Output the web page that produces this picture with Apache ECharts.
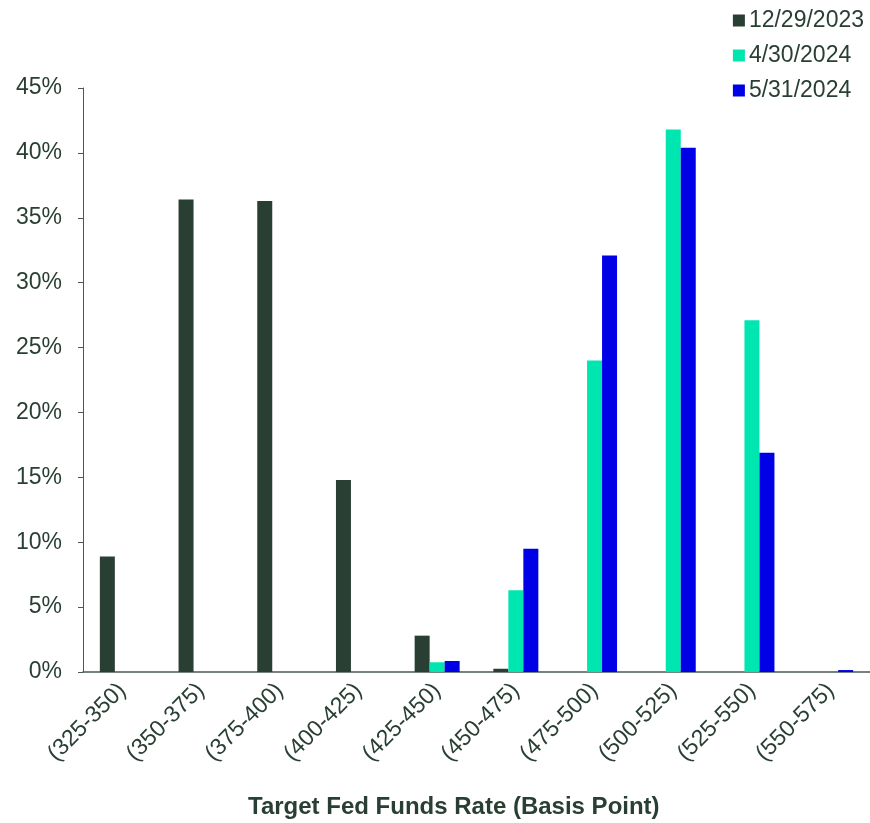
<!DOCTYPE html>
<html>
<head>
<meta charset="utf-8">
<script src="https://cdn.jsdelivr.net/npm/echarts@6/dist/echarts.min.js"></script>
<style>
  html, body { margin: 0; padding: 0; background: #ffffff; }
  #chart { width: 870px; height: 823px; }
</style>
</head>
<body>
<div id="chart"></div>
<script>
// Fed funds rate probability buckets (basis points)
const categories = ['(325-350)', '(350-375)', '(375-400)', '(400-425)', '(425-450)',
                    '(450-475)', '(475-500)', '(500-525)', '(525-550)', '(550-575)'];

// Probability (%) for each snapshot date
const dec2023 = [8.9, 36.4, 36.3, 14.8, 2.8, 0.25, 0, 0, 0, 0];
const apr2024 = [0, 0, 0, 0, 0.75, 6.3, 24.0, 41.8, 27.1, 0];
const may2024 = [0, 0, 0, 0, 0.85, 9.5, 32.1, 40.4, 16.9, 0.15];

const seriesNames = ['12/29/2023', '4/30/2024', '5/31/2024'];
const yTicks = [0, 5, 10, 15, 20, 25, 30, 35, 40, 45];
const axisTitle = 'Target Fed Funds Rate (Basis Point)';

const textColor = '#2a3f34';
const font = '"Liberation Sans", Arial, sans-serif';

const chart = echarts.init(document.getElementById('chart'));

chart.setOption({
  animation: false,
  backgroundColor: '#ffffff',
  color: ['#2a3f34', '#00e6b0', '#0000e6'],
  textStyle: { fontFamily: font, color: textColor },
  legend: {
    orient: 'vertical',
    right: 1,
    top: 4,
    itemWidth: 12,
    itemHeight: 12,
    itemGap: 12,
    icon: 'rect',
    textStyle: { fontSize: 23, color: textColor, fontFamily: font, padding: [0, 0, 0, -1] },
    data: seriesNames
  },
  grid: {
    left: 83, right: 0, top: 88, bottom: 151,
    containLabel: false,
    outerBoundsMode: 'none'
  },
  xAxis: {
    type: 'category',
    data: categories,
    axisLine: { lineStyle: { color: '#4a5a50', width: 1.5 } },
    axisTick: { show: false },
    axisLabel: {
      rotate: 45,
      fontSize: 23,
      color: textColor,
      fontFamily: font,
      margin: 15,
      interval: 0
    }
  },
  yAxis: {
    type: 'value',
    min: yTicks[0],
    max: yTicks[yTicks.length - 1],
    interval: 5,
    axisLine: { show: true, lineStyle: { color: '#4a5a50', width: 1 } },
    axisTick: { show: true, inside: false, length: 5, lineStyle: { color: '#4a5a50' } },
    splitLine: { show: false },
    axisLabel: {
      fontSize: 23,
      color: textColor,
      fontFamily: font,
      margin: 21,
      formatter: v => v + '%'
    }
  },
  graphic: [{
    type: 'text',
    left: 248,
    top: 795,
    style: {
      text: axisTitle,
      fontSize: 24,
      fontWeight: 'bold',
      fontFamily: font,
      fill: textColor
    }
  }],
  series: [
    { name: seriesNames[0], type: 'bar', data: dec2023, barWidth: 15, barGap: '0%' },
    { name: seriesNames[1], type: 'bar', data: apr2024, barWidth: 15, barGap: '0%' },
    { name: seriesNames[2], type: 'bar', data: may2024, barWidth: 15, barGap: '0%' }
  ]
});
</script>
</body>
</html>
